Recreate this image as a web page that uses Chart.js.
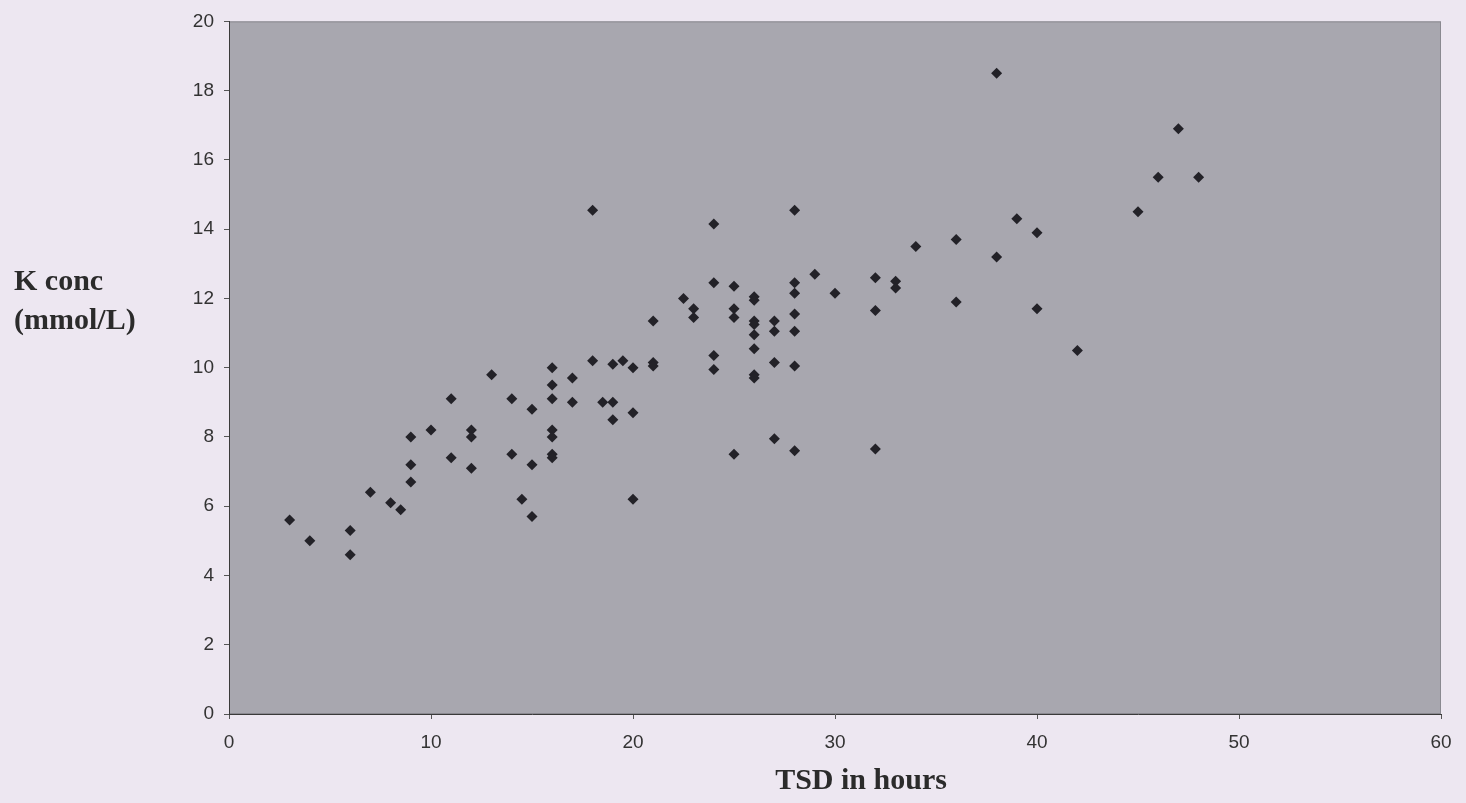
<!DOCTYPE html>
<html>
<head>
<meta charset="utf-8">
<script src="https://cdn.jsdelivr.net/npm/chart.js@4"></script>
<style>
  html, body { margin: 0; padding: 0; background: #ede7f1; }
  #wrap { width: 1466px; height: 803px; position: relative; }
</style>
</head>
<body>
<div id="wrap"><canvas id="kChart" width="1466" height="803"></canvas></div>
<script>
// TSD (hours) vs K concentration (mmol/L)
const tsdHours = [3, 4, 6, 6, 7, 8, 8.5, 9, 9, 9, 10, 11, 11, 12, 12, 12, 13, 14, 14, 14.5,
  15, 15, 15, 16, 16, 16, 16, 16, 16, 16, 17, 17, 18, 18, 18.5, 19, 19, 19, 19.5, 20,
  20, 20, 21, 21, 21, 22.5, 23, 23, 24, 24, 24, 24, 25, 25, 25, 25, 26, 26, 26, 26,
  26, 26, 26, 26, 27, 27, 27, 27, 28, 28, 28, 28, 28, 28, 28, 29, 30, 32, 32, 32,
  33, 33, 34, 36, 36, 38, 38, 39, 40, 40, 42, 45, 46, 47, 48];
const kConc = [5.6, 5.0, 5.3, 4.6, 6.4, 6.1, 5.9, 8.0, 7.2, 6.7, 8.2, 9.1, 7.4, 8.2, 8.0, 7.1, 9.8, 9.1, 7.5, 6.2,
  8.8, 7.2, 5.7, 10.0, 9.5, 9.1, 8.2, 8.0, 7.5, 7.4, 9.7, 9.0, 14.55, 10.2, 9.0, 10.1, 9.0, 8.5, 10.2, 10.0,
  8.7, 6.2, 11.35, 10.15, 10.05, 12.0, 11.7, 11.45, 14.15, 12.45, 10.35, 9.95, 12.35, 11.7, 11.45, 7.5, 12.05, 11.95, 11.35, 11.25,
  10.95, 10.55, 9.8, 9.7, 11.35, 11.05, 10.15, 7.95, 14.55, 12.45, 12.15, 11.55, 11.05, 10.05, 7.6, 12.7, 12.15, 12.6, 11.65, 7.65,
  12.5, 12.3, 13.5, 13.7, 11.9, 18.5, 13.2, 14.3, 13.9, 11.7, 10.5, 14.5, 15.5, 16.9, 15.5];
const xTicks = [0, 10, 20, 30, 40, 50, 60];
const yTicks = [0, 2, 4, 6, 8, 10, 12, 14, 16, 18, 20];

const points = tsdHours.map((x, i) => ({ x: x, y: kConc[i] }));

// grey plot area with a soft frame on top / right
const plotBg = {
  id: 'plotBg',
  beforeDraw(chart) {
    const { ctx, chartArea: a } = chart;
    ctx.save();
    ctx.fillStyle = '#a8a7af';
    ctx.fillRect(a.left, a.top, a.width, a.height);
    ctx.strokeStyle = '#8a8990';
    ctx.lineWidth = 1;
    ctx.strokeRect(a.left + 0.5, a.top + 0.5, a.width - 1, a.height - 1);
    ctx.restore();
  }
};

// axis titles placed like the original (horizontal y title at far left)
const axisTitles = {
  id: 'axisTitles',
  afterDraw(chart) {
    const ctx = chart.ctx;
    ctx.save();
    ctx.fillStyle = '#2b2b2b';
    ctx.font = 'bold 30px "Liberation Serif", "Times New Roman", serif';
    ctx.textBaseline = 'middle';
    ctx.textAlign = 'left';
    ctx.fillText('K conc', 14, 282);
    ctx.fillText('(mmol/L)', 14, 321);
    ctx.textAlign = 'center';
    ctx.fillText('TSD in hours', 861, 781);
    ctx.restore();
  }
};

new Chart(document.getElementById('kChart'), {
  type: 'scatter',
  data: {
    datasets: [{
      label: 'K conc',
      data: points,
      pointStyle: 'rectRot',
      pointRadius: 5.5,
      pointBackgroundColor: '#232228',
      pointBorderColor: '#232228',
      pointBorderWidth: 0
    }]
  },
  options: {
    responsive: false,
    animation: false,
    layout: { padding: { top: 18, right: 25, left: 0, bottom: 0 } },
    plugins: { legend: { display: false }, tooltip: { enabled: false } },
    scales: {
      x: {
        type: 'linear',
        min: 0, max: 60,
        afterBuildTicks: (axis) => { axis.ticks = xTicks.map(v => ({ value: v })); },
        afterFit: (axis) => { axis.height = 89; },
        grid: { drawOnChartArea: false, drawTicks: true, tickLength: 5, color: '#555' },
        border: { color: '#3a3a3a', width: 1 },
        ticks: { color: '#333', padding: 12, font: { family: '"Liberation Sans", Arial, sans-serif', size: 19 } }
      },
      y: {
        type: 'linear',
        min: 0, max: 20,
        afterBuildTicks: (axis) => { axis.ticks = yTicks.map(v => ({ value: v })); },
        afterFit: (axis) => { axis.width = 229; },
        grid: { drawOnChartArea: false, drawTicks: true, tickLength: 5, color: '#555' },
        border: { color: '#3a3a3a', width: 1 },
        ticks: { color: '#333', padding: 10, font: { family: '"Liberation Sans", Arial, sans-serif', size: 19 } }
      }
    }
  },
  plugins: [plotBg, axisTitles]
});
</script>
</body>
</html>
